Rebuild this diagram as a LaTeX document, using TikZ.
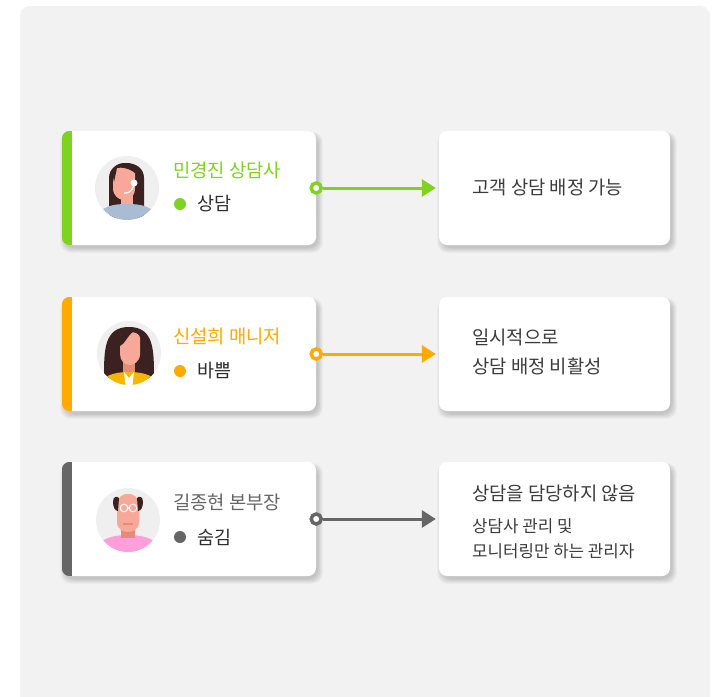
\documentclass[tikz,border=0pt]{standalone}
\usepackage{fontspec}
\setmainfont{Noto Sans CJK KR}
\usetikzlibrary{arrows.meta}
\definecolor{panelbg}{HTML}{F2F2F2}
\definecolor{cgreen}{HTML}{7ED321}
\definecolor{corange}{HTML}{FFAA00}
\definecolor{cgray}{HTML}{666666}
\definecolor{txtdark}{HTML}{2E2E2E}
\definecolor{txtbox}{HTML}{3C3C3C}
\definecolor{avbg}{HTML}{EFEFEF}
\definecolor{skin}{HTML}{F8A898}
\definecolor{skindk}{HTML}{E88A78}
\definecolor{hair}{HTML}{3B2220}
\definecolor{shirtblue}{HTML}{A9BCD4}
\definecolor{jacket}{HTML}{F7B500}
\definecolor{shirtpink}{HTML}{FF9FD9}
% soft drop shadow below/right of a box given by its corners
\newcommand\softshadow[4]{%
  \foreach \i in {0,...,6}{
    \fill[black, opacity=0.028, rounded corners=10pt]
      (#1+3-\i*0.8, #2+4-\i*0.5) rectangle (#3+2+\i*0.8, #4+3+\i*0.8);
  }}
\tikzset{
  card/.style={rectangle, rounded corners=8pt, fill=white, minimum width=254pt,
    minimum height=114pt, inner sep=0pt},
  infobox/.style={card, minimum width=231pt},
  namelbl/.style={anchor=west, inner sep=0pt, font=\fontsize{18.8}{22}\selectfont},
  statuslbl/.style={anchor=west, inner sep=0pt, text=txtdark, font=\fontsize{18.5}{21}\selectfont},
  boxlbl/.style={anchor=west, inner sep=0pt, text=txtbox, font=\fontsize{18.8}{22}\selectfont},
  boxlblsm/.style={anchor=west, inner sep=0pt, text=txtbox, font=\fontsize{16.8}{19}\selectfont},
  statusdot/.style={circle, inner sep=0pt, minimum size=12pt},
  startdot/.style={circle, fill=white, line width=3.5pt, inner sep=0pt, minimum size=10pt},
  flow/.style={line width=3pt, -{Triangle[length=14pt,width=17pt]}, shorten >=3pt},
  avatar/.style={circle, fill=avbg, minimum size=64pt, inner sep=0pt},
}
\begin{document}
\begin{tikzpicture}[x=1pt, y=-1pt]
\useasboundingbox (0,0) rectangle (722,696);
\clip (0,0) rectangle (722,696);
% background panel
\fill[panelbg, rounded corners=10pt] (20,6) rectangle (710,720);

% shadows under cards and boxes
\foreach \y in {131,297,462}{
  \softshadow{62}{\y}{316}{\y+114}
  \softshadow{439}{\y}{670}{\y+114}
}

% ---- left cards ----
\node[card] (c1) at (189,188) {};
\node[card] (c2) at (189,354) {};
\node[card] (c3) at (189,519) {};
\foreach \c/\col in {c1/cgreen, c2/corange, c3/cgray}{
  \begin{scope}
    \clip[rounded corners=8pt] (\c.north west) rectangle (\c.south east);
    \fill[\col] (\c.north west) rectangle ([xshift=10pt]\c.south west);
  \end{scope}
}

% ---- right boxes ----
\node[infobox] (r1) at (554.5,188) {};
\node[infobox] (r2) at (554.5,354) {};
\node[infobox] (r3) at (554.5,519) {};

% ---- avatar 1: counsellor with headset ----
\node[avatar] (a1) at (127,188) {};
\begin{scope}
  \clip (a1.center) circle (32);
  \fill[hair] (109,218) -- (109,178) .. controls (109,158) and (144,158) .. (144,178) -- (144,218) -- cycle;
  \fill[skin] (121,196) rectangle (133,210);
  \fill[shirtblue] (92,232) .. controls (94,208) and (108,204) .. (127,204) .. controls (146,204) and (160,208) .. (162,232) -- cycle;
  \fill[skin] (113,172) .. controls (113,164) and (135,164) .. (135,172) -- (135,188) .. controls (135,198) and (128,200) .. (124,200) .. controls (119,200) and (113,196) .. (113,188) -- cycle;
  \fill[hair] (112,172) .. controls (114,161) and (131,160) .. (136,170) -- (136,174) .. controls (130,168) and (121,167) .. (117,168) -- (114,182) -- cycle;
  \draw[white, line width=1.2pt] (134,184) .. controls (132,192) and (129,193) .. (124,193);
  \fill[white] (134,183) circle (3.5);
\end{scope}

% ---- avatar 2: manager ----
\node[avatar] (a2) at (129,353) {};
\begin{scope}
  \clip (a2.center) circle (32);
  \fill[hair] (104,378) .. controls (104,350) and (104,327) .. (129,327) .. controls (154,327) and (154,350) .. (154,378) -- cycle;
  \fill[skindk] (123,358) rectangle (135,373);
  \fill[jacket] (92,400) .. controls (95,378) and (110,372) .. (129,372) .. controls (148,372) and (163,378) .. (166,400) -- cycle;
  \fill[white] (124,372) -- (129,378) -- (134,372) -- (132,390) -- (126,390) -- cycle;
  \fill[skin] (120,338) .. controls (120,330) and (140,330) .. (140,338) -- (140,354) .. controls (140,362) and (133,365) .. (130,365) .. controls (125,365) and (120,361) .. (120,354) -- cycle;
  \fill[hair] (116,350) .. controls (117,334) and (124,330) .. (134,331) .. controls (127,336) and (125,344) .. (120,346) -- (119,356) -- cycle;
\end{scope}

% ---- avatar 3: division head ----
\node[avatar] (a3) at (128,520) {};
\begin{scope}
  \clip (a3.center) circle (32);
  \fill[shirtpink] (92,560) .. controls (94,540) and (110,535) .. (128,535) .. controls (146,535) and (162,540) .. (164,560) -- cycle;
  \fill[skindk] (121,525) rectangle (135,538);
  \fill[skin] (117,505) .. controls (117,490) and (139,490) .. (139,505) -- (139,522) .. controls (139,530) and (132,532) .. (128,532) .. controls (124,532) and (117,530) .. (117,522) -- cycle;
  \fill[hair] (113,502) .. controls (113,496) and (117,496) .. (119,498) -- (118,511) .. controls (115,511) and (113,507) .. (113,502) -- cycle;
  \fill[hair] (143,502) .. controls (143,496) and (139,496) .. (137,498) -- (138,511) .. controls (141,511) and (143,507) .. (143,502) -- cycle;
  \draw[white, line width=1pt] (124,508) circle (3.8) (133,508) circle (3.8) (127.8,508) -- (129.2,508);
  \draw[skindk, line width=1.5pt] (123,524) -- (133,524);
\end{scope}

% ---- names and states ----
\node[namelbl, text=cgreen] (n1) at (173,170) {민경진 상담사};
\node[statusdot, fill=cgreen] (s1) at (180,204) {};
\node[statuslbl] (t1) at (197,204) {상담};

\node[namelbl, text=corange] (n2) at (173,336) {신설희 매니저};
\node[statusdot, fill=corange] (s2) at (180,371) {};
\node[statuslbl] (t2) at (197,371) {바쁨};

\node[namelbl, text=cgray] (n3) at (173,502) {길종현 본부장};
\node[statusdot, fill=cgray] (s3) at (180,537) {};
\node[statuslbl] (t3) at (197,537) {숨김};

% ---- box texts ----
\node[boxlbl] (b1) at (472,187) {고객 상담 배정 가능};
\node[boxlbl] (b2a) at (472,337) {일시적으로};
\node[boxlbl] (b2b) at (472,366) {상담 배정 비활성};
\node[boxlbl] (b3a) at (472,493) {상담을 담당하지 않음};
\node[boxlblsm] (b3b) at (472,526) {상담사 관리 및};
\node[boxlblsm] (b3c) at (472,551) {모니터링만 하는 관리자};

% ---- connectors ----
\node[startdot, draw=cgreen] (d1) at (c1.east) {};
\node[startdot, draw=corange] (d2) at (c2.east) {};
\node[startdot, draw=cgray] (d3) at (c3.east) {};
\draw[flow, cgreen] (d1) -- (r1.west);
\draw[flow, corange] (d2) -- (r2.west);
\draw[flow, cgray] (d3) -- (r3.west);
\end{tikzpicture}
\end{document}
